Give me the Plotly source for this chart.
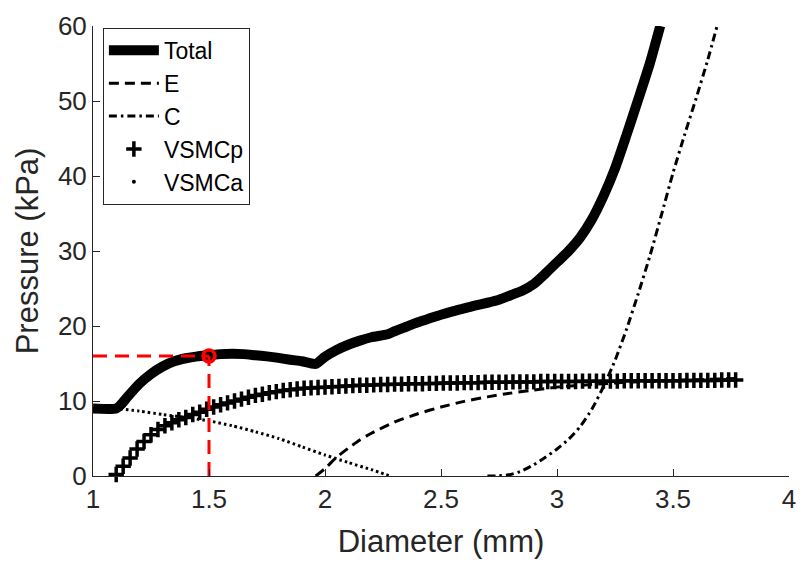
import plotly.graph_objects as go

# ---------------- data ----------------
total_x = [1.00, 1.10, 1.12, 1.15, 1.20, 1.25, 1.30, 1.35, 1.40, 1.45, 1.50, 1.55, 1.60,
           1.65, 1.70, 1.75, 1.80, 1.85, 1.90, 1.96, 2.00, 2.05, 2.10, 2.15, 2.20, 2.27,
           2.30, 2.35, 2.40, 2.45, 2.50, 2.55, 2.60, 2.65, 2.70, 2.75, 2.80, 2.85, 2.90,
           2.95, 3.00, 3.05, 3.10, 3.15, 3.20, 3.25, 3.30, 3.35, 3.40, 3.445]
total_y = [9.0, 9.0, 9.5, 10.6, 12.3, 13.6, 14.6, 15.3, 15.7, 15.95, 16.1, 16.25, 16.3,
           16.25, 16.1, 15.95, 15.75, 15.5, 15.3, 14.95, 15.9, 16.8, 17.5, 18.05, 18.5, 18.9,
           19.3, 19.9, 20.5, 21.0, 21.5, 21.95, 22.35, 22.75, 23.1, 23.5, 24.1, 24.7, 25.6,
           27.0, 28.5, 30.0, 31.8, 34.2, 37.3, 41.0, 45.5, 50.2, 55.0, 60.0]

e_x = [1.96, 2.00, 2.05, 2.10, 2.15, 2.20, 2.30, 2.40, 2.50, 2.60, 2.70, 2.80, 2.90,
       3.00, 3.10, 3.20, 3.30, 3.40, 3.50, 3.60, 3.70, 3.78]
e_y = [0.0, 1.0, 2.5, 3.7, 4.8, 5.7, 7.2, 8.3, 9.2, 9.95, 10.55, 11.05, 11.45,
       11.85, 12.1, 12.3, 12.5, 12.6, 12.75, 12.85, 12.95, 13.0]

c_x = [2.70, 2.75, 2.80, 2.85, 2.90, 2.95, 3.00, 3.05, 3.10, 3.15, 3.20, 3.25, 3.30,
       3.35, 3.40, 3.45, 3.50, 3.55, 3.60, 3.65, 3.69]
c_y = [0.0, 0.03, 0.2, 0.7, 1.5, 2.5, 3.6, 4.9, 6.6, 8.9, 11.9, 15.4, 19.6,
       24.3, 29.3, 34.8, 40.4, 45.5, 50.4, 55.5, 60.0]

vsmcp_x = [1.10, 1.13, 1.16, 1.19, 1.22, 1.25, 1.28, 1.31, 1.34, 1.37, 1.40, 1.43, 1.46,
           1.49, 1.52, 1.55, 1.58, 1.61, 1.64, 1.67, 1.70, 1.73, 1.76, 1.79, 1.82, 1.85,
           1.88, 1.91, 1.94, 1.97, 2.00, 2.03, 2.06, 2.09, 2.12, 2.15, 2.18, 2.21, 2.24,
           2.27, 2.30, 2.33, 2.36, 2.39, 2.42, 2.45, 2.48, 2.51, 2.54, 2.57, 2.60, 2.63,
           2.66, 2.69, 2.72, 2.75, 2.78, 2.81, 2.84, 2.87, 2.90, 2.93, 2.96, 2.99, 3.02,
           3.05, 3.08, 3.11, 3.14, 3.17, 3.20, 3.23, 3.26, 3.29, 3.32, 3.35, 3.38, 3.41,
           3.44, 3.47, 3.50, 3.53, 3.56, 3.59, 3.62, 3.65, 3.68, 3.71, 3.74, 3.77]
vsmcp_y = [0.2, 1.3, 2.4, 3.6, 4.6, 5.5, 6.2, 6.7, 7.1, 7.5, 7.8, 8.2, 8.5,
           8.9, 9.2, 9.5, 9.75, 10.0, 10.25, 10.5, 10.75, 10.9, 11.1, 11.25, 11.4, 11.5,
           11.6, 11.7, 11.75, 11.8, 11.85, 11.9, 11.95, 12.0, 12.05, 12.1, 12.1, 12.15, 12.2,
           12.2, 12.25, 12.25, 12.3, 12.3, 12.3, 12.35, 12.35, 12.4, 12.4, 12.4, 12.45, 12.45,
           12.45, 12.5, 12.5, 12.5, 12.5, 12.55, 12.55, 12.55, 12.55, 12.6, 12.6, 12.6, 12.6,
           12.6, 12.6, 12.65, 12.65, 12.65, 12.65, 12.65, 12.65, 12.7, 12.7, 12.7, 12.7, 12.7,
           12.7, 12.7, 12.7, 12.7, 12.75, 12.75, 12.75, 12.75, 12.75, 12.8, 12.8, 12.8]

vsmca_x = [1.00, 1.10, 1.20, 1.30, 1.40, 1.50, 1.60, 1.70, 1.80, 1.90, 2.00, 2.10, 2.20, 2.28]
vsmca_y = [9.0, 9.0, 8.65, 8.2, 7.8, 7.35, 6.7, 5.9, 5.0, 3.9, 2.8, 1.8, 0.85, 0.0]

point_x = 1.5
point_y = 16.0

x_ticks = [1, 1.5, 2, 2.5, 3, 3.5, 4]
y_ticks = [0, 10, 20, 30, 40, 50, 60]
x_range = [1, 4]
y_range = [0, 60]

# ---------------- styling ----------------
FONT = "Liberation Sans, Arial, Helvetica, sans-serif"
AXC = "#262626"

fig = go.Figure()

fig.add_trace(go.Scatter(x=total_x, y=total_y, mode="lines", name="Total",
                         line=dict(color="black", width=10, shape="spline", smoothing=0.6),
                         legendrank=1, legendgroup="g1"))
fig.add_trace(go.Scatter(x=e_x, y=e_y, mode="lines", name="E",
                         line=dict(color="black", width=3, dash="10px,6px",
                                   shape="spline", smoothing=0.6),
                         legendrank=2, legendgroup="g2"))
fig.add_trace(go.Scatter(x=c_x, y=c_y, mode="lines", name="C",
                         line=dict(color="black", width=3, dash="8px,4px,2.5px,4px",
                                   shape="spline", smoothing=0.6),
                         legendrank=3, legendgroup="g3"))
fig.add_trace(go.Scatter(x=vsmcp_x, y=vsmcp_y, mode="markers", name="VSMCp",
                         marker=dict(symbol="cross-thin", size=11, color="black",
                                     line=dict(color="black", width=3.5)),
                         cliponaxis=False, legendrank=4, legendgroup="g4"))
fig.add_trace(go.Scatter(x=vsmca_x, y=vsmca_y, mode="lines", name="VSMCa",
                         line=dict(color="black", width=3, dash="2.5px,3px",
                                   shape="spline", smoothing=0.6),
                         showlegend=False, legendgroup="g5"))
# legend entry for VSMCa shown as a single dot marker
fig.add_trace(go.Scatter(x=[None], y=[None], mode="markers", name="VSMCa",
                         marker=dict(symbol="circle", size=4, color="black"),
                         legendrank=5, legendgroup="g5"))

# red guide lines and point
fig.add_trace(go.Scatter(x=[x_range[0], point_x], y=[point_y, point_y], mode="lines",
                         line=dict(color="red", width=3, dash="14px,8px"),
                         showlegend=False))
fig.add_trace(go.Scatter(x=[point_x, point_x], y=[y_range[0], point_y], mode="lines",
                         line=dict(color="red", width=3, dash="14px,8px"),
                         showlegend=False))
fig.add_trace(go.Scatter(x=[point_x], y=[point_y], mode="markers",
                         marker=dict(symbol="circle-open", size=12, color="red",
                                     line=dict(color="red", width=3.5)),
                         showlegend=False))

fig.update_layout(
    width=807, height=565,
    margin=dict(l=93, r=11, t=17, b=89),
    paper_bgcolor="white", plot_bgcolor="white",
    font=dict(family=FONT, color=AXC, size=26),
    showlegend=True,
    legend=dict(x=0.0142, y=0.996, xanchor="left", yanchor="top",
                bgcolor="white", bordercolor=AXC, borderwidth=1,
                font=dict(family=FONT, size=23, color="black"),
                traceorder="grouped", tracegroupgap=0, itemwidth=50),
)
fig.update_xaxes(range=x_range, tickvals=x_ticks, ticktext=[str(v) for v in x_ticks],
                 showline=True, linecolor=AXC, linewidth=1, mirror=False,
                 ticks="inside", ticklen=7, tickcolor=AXC, showgrid=False, zeroline=False,
                 tickfont=dict(size=26, color=AXC, family=FONT),
                 title=dict(text="Diameter (mm)", font=dict(size=31, color=AXC, family=FONT),
                            standoff=17))
fig.update_yaxes(range=y_range, tickvals=y_ticks,
                 showline=True, linecolor=AXC, linewidth=1, mirror=False,
                 ticks="inside", ticklen=7, tickcolor=AXC, showgrid=False, zeroline=False,
                 tickfont=dict(size=26, color=AXC, family=FONT),
                 title=dict(text="Pressure (kPa)", font=dict(size=31, color=AXC, family=FONT),
                            standoff=10))

fig.write_html("out.html")
